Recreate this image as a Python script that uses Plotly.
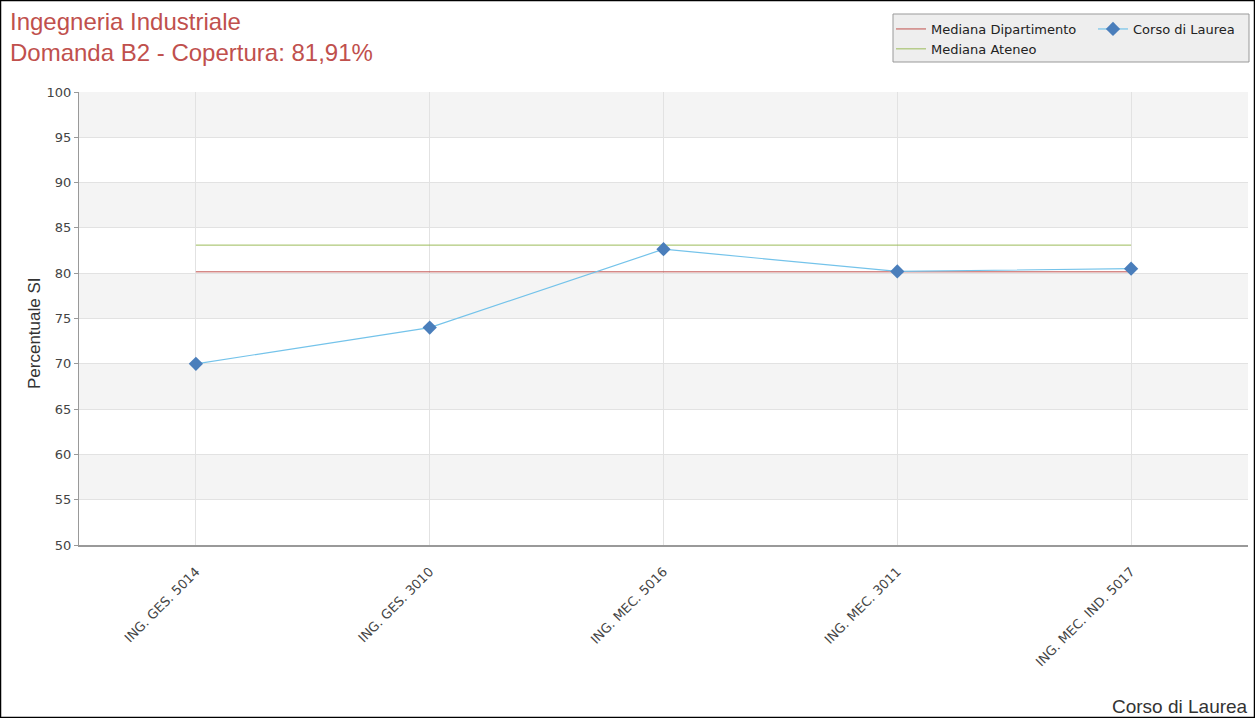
import plotly.graph_objects as go

categories = ["ING. GES. 5014", "ING. GES. 3010", "ING. MEC. 5016", "ING. MEC. 3011", "ING. MEC. IND. 5017"]
corso_values = [70.0, 74.0, 82.65, 80.2, 80.5]
mediana_dipartimento = [80.15] * 5
mediana_ateneo = [83.1] * 5
y_ticks = [50, 55, 60, 65, 70, 75, 80, 85, 90, 95, 100]

W, H = 1255, 718
L, R, T, B = 79, 7, 92, 173
PW, PH = W - L - R, H - T - B

def px(p):
    return (p - L) / PW

def py(p):
    return (H - B - p) / PH

fig = go.Figure()

fig.add_trace(go.Scatter(
    x=categories, y=mediana_dipartimento, mode="lines", name="Mediana Dipartimento",
    line=dict(color="#c0504d", width=1), legend="legend"))
fig.add_trace(go.Scatter(
    x=categories, y=mediana_ateneo, mode="lines", name="Mediana Ateneo",
    line=dict(color="#9bbb59", width=1), legend="legend"))
fig.add_trace(go.Scatter(
    x=categories, y=corso_values, mode="lines+markers", name="Corso di Laurea",
    line=dict(color="#74c3ea", width=1.2),
    marker=dict(symbol="diamond", size=11, color="#4a7ebb"), legend="legend2"))

shapes = []
for i in range(len(y_ticks) - 1):
    lo, hi = y_ticks[i], y_ticks[i + 1]
    if i % 2 == 1:
        shapes.append(dict(type="rect", xref="paper", yref="y", x0=0, x1=1, y0=lo, y1=hi,
                           fillcolor="#f4f4f4", line=dict(width=0), layer="below"))
shapes.append(dict(type="rect", xref="paper", yref="paper",
                   x0=px(893), x1=px(1249), y0=py(62), y1=py(14),
                   fillcolor="#eeeeee", line=dict(color="#999999", width=1), layer="above"))
shapes.append(dict(type="rect", xref="paper", yref="paper",
                   x0=px(0.5), x1=px(W - 0.5), y0=py(H - 0.5), y1=py(0.5),
                   fillcolor="rgba(0,0,0,0)", line=dict(color="#000000", width=1.5), layer="above"))

annotations = [
    dict(text="Ingegneria Industriale<br>Domanda B2 - Copertura: 81,91%",
         xref="paper", yref="paper", x=px(8), y=py(6), align="left",
         showarrow=False, xanchor="left", yanchor="top",
         font=dict(family="Liberation Sans", size=24, color="#c0504d")),
    dict(text="Percentuale SI", xref="paper", yref="paper", x=px(34), y=py(333),
         textangle=-90, showarrow=False, xanchor="center", yanchor="middle",
         font=dict(family="Liberation Sans", size=17, color="#333333")),
    dict(text="Corso di Laurea", xref="paper", yref="paper", x=px(1250), y=py(706),
         showarrow=False, xanchor="right", yanchor="middle",
         font=dict(family="Liberation Sans", size=19, color="#333333")),
]

fig.update_layout(
    width=W, height=H,
    margin=dict(l=L, r=R, t=T, b=B),
    paper_bgcolor="white", plot_bgcolor="white",
    legend=dict(x=px(891), y=py(14), xanchor="left", yanchor="top", orientation="v",
                bgcolor="rgba(0,0,0,0)", borderwidth=0, tracegroupgap=0,
                font=dict(family="DejaVu Sans", size=13, color="#222222")),
    legend2=dict(x=px(1093), y=py(14), xanchor="left", yanchor="top", orientation="v",
                 bgcolor="rgba(0,0,0,0)", borderwidth=0,
                 font=dict(family="DejaVu Sans", size=13, color="#222222")),
    shapes=shapes,
    annotations=annotations,
    xaxis=dict(type="category", range=[-0.5, 4.5], showgrid=True, gridcolor="#e2e2e2",
               showline=True, linecolor="#999999", linewidth=2, ticks="",
               tickangle=-45, ticklabelstandoff=12,
               tickfont=dict(family="DejaVu Sans", size=13, color="#444444"),
               zeroline=False),
    yaxis=dict(range=[50, 100], tickvals=y_ticks, showgrid=True, gridcolor="#e2e2e2",
               showline=True, linecolor="#999999", linewidth=1, ticks="outside",
               ticklen=4, tickcolor="#999999",
               tickfont=dict(family="DejaVu Sans", size=13, color="#444444"),
               zeroline=False),
)

fig.write_html("out.html", config={"displayModeBar": False},
               post_script="document.body.style.margin='0';document.body.style.overflow='hidden';")
